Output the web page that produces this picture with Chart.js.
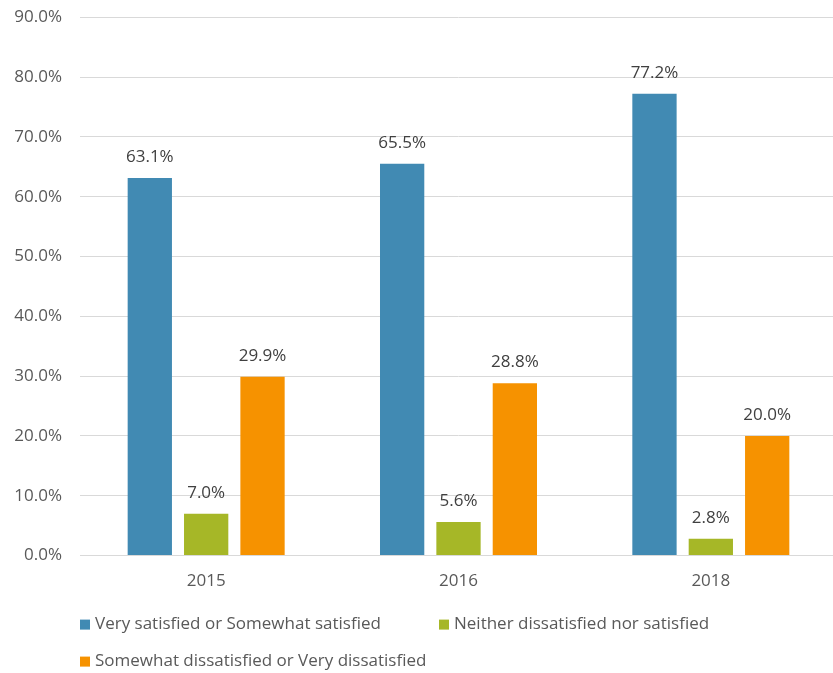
<!DOCTYPE html>
<html><head><meta charset="utf-8">
<script src="https://cdn.jsdelivr.net/npm/chart.js@4.4.0/dist/chart.umd.min.js"></script>
<style>html,body{margin:0;padding:0;background:#fff;overflow:hidden}#wrap{width:833px;height:673px;overflow:hidden;position:relative}#c{position:absolute;left:0;top:-11px}</style>
</head><body><div id="wrap"><canvas id="c" width="837" height="684"></canvas></div>
<script>
const categories = ["2015", "2016", "2018"];
const seriesNames = ["Very satisfied or Somewhat satisfied", "Neither dissatisfied nor satisfied", "Somewhat dissatisfied or Very dissatisfied"];
const satisfied = [63.1, 65.5, 77.2];
const neither = [7.0, 5.6, 2.8];
const dissatisfied = [29.9, 28.8, 20.0];
const colors = ["#418ab3", "#a6b727", "#f69200"];

const FONT = "'Open Sans', sans-serif";
const FS = 17;

const dataLabels = {
  id: 'dataLabels',
  afterDatasetsDraw(chart) {
    const ctx = chart.ctx;
    ctx.save();
    ctx.font = FS + "px " + FONT;
    ctx.fillStyle = "#404040";
    ctx.textAlign = "center";
    ctx.textBaseline = "middle";
    chart.data.datasets.forEach((ds, i) => {
      chart.getDatasetMeta(i).data.forEach((bar, j) => {
        ctx.fillText(ds.data[j].toFixed(1) + "%", bar.x, bar.y - 21);
      });
    });
    ctx.restore();
  }
};

const customLegend = {
  id: 'customLegend',
  afterDraw(chart) {
    const ctx = chart.ctx;
    const left = chart.chartArea.left;
    const base = chart.chartArea.bottom;
    const pos = [[left, base + 69], [left + 359, base + 69], [left, base + 106]];
    ctx.save();
    ctx.font = FS + "px " + FONT;
    ctx.textBaseline = "middle";
    ctx.textAlign = "left";
    chart.data.datasets.forEach((ds, i) => {
      const [x, y] = pos[i];
      ctx.fillStyle = ds.backgroundColor;
      ctx.fillRect(x, y - 5, 10, 10);
      ctx.fillStyle = "#595959";
      ctx.fillText(ds.label, x + 15, y);
    });
    ctx.restore();
  }
};

new Chart(document.getElementById('c'), {
  type: 'bar',
  data: {
    labels: categories,
    datasets: [
      { label: seriesNames[0], data: satisfied, backgroundColor: colors[0] },
      { label: seriesNames[1], data: neither, backgroundColor: colors[1] },
      { label: seriesNames[2], data: dissatisfied, backgroundColor: colors[2] }
    ]
  },
  options: {
    responsive: false,
    animation: false,
    layout: { padding: { top: 0, right: 0, bottom: 67, left: 0 } },
    datasets: { bar: { categoryPercentage: 0.67, barPercentage: 0.786 } },
    plugins: { legend: { display: false }, tooltip: { enabled: false } },
    scales: {
      x: {
        grid: { display: false, drawTicks: false },
        border: { color: "#d9d9d9", width: 1 },
        ticks: { color: "#595959", font: { family: FONT, size: FS }, padding: 15 }
      },
      y: {
        min: 0, max: 90,
        afterFit: s => { s.width = 80; },
        grid: { color: "#d9d9d9", drawTicks: false },
        border: { display: false },
        ticks: { stepSize: 10, color: "#595959", font: { family: FONT, size: FS }, padding: 18,
          callback: v => v.toFixed(1) + "%" }
      }
    }
  },
  plugins: [dataLabels, customLegend]
});
</script></body></html>
